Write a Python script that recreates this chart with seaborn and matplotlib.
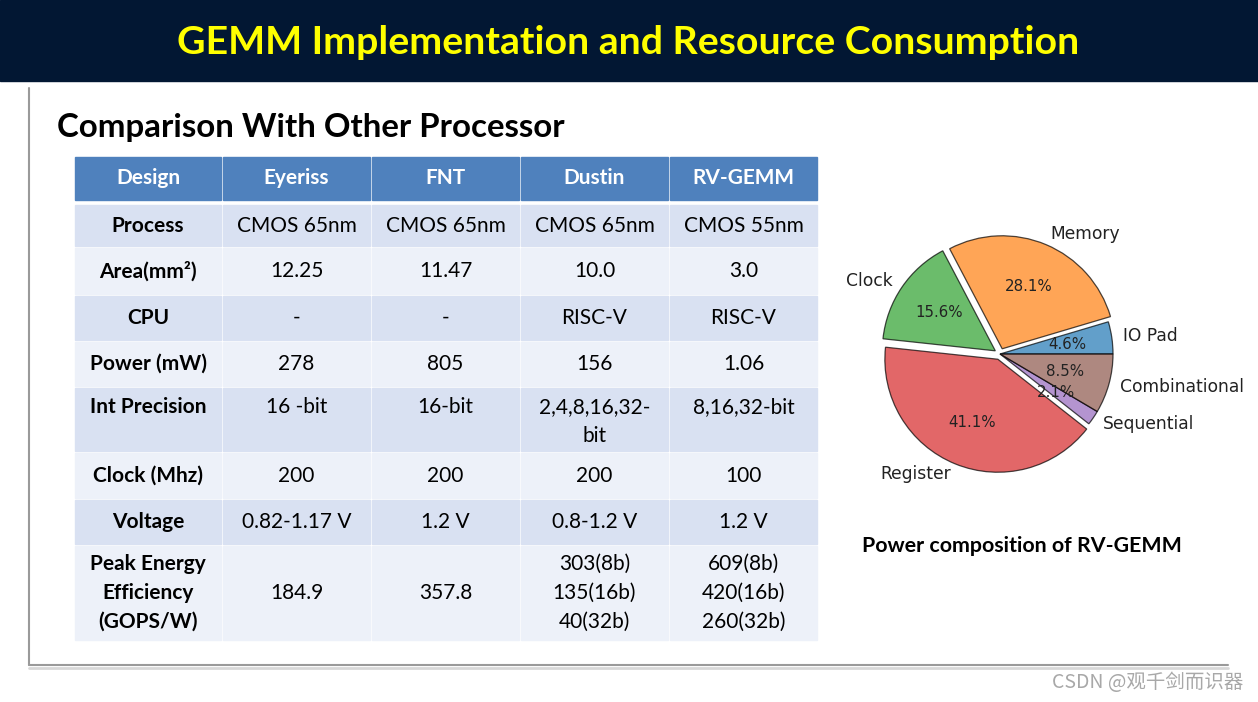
import numpy as np
import matplotlib
matplotlib.use("Agg")
import matplotlib.pyplot as plt
from matplotlib.patches import Rectangle
import seaborn as sns

# ---------------------------------------------------------------------------
# Data
# ---------------------------------------------------------------------------
title = "GEMM Implementation and Resource Consumption"
subtitle = "Comparison With Other Processor"

designs = ["Eyeriss", "FNT", "Dustin", "RV-GEMM"]
row_names = ["Process", "Area(mm²)", "CPU", "Power (mW)", "Int Precision",
             "Clock (Mhz)", "Voltage", "Peak Energy\nEfficiency\n(GOPS/W)"]
process = ["CMOS 65nm", "CMOS 65nm", "CMOS 65nm", "CMOS 55nm"]
area = ["12.25", "11.47", "10.0", "3.0"]
cpu = ["-", "-", "RISC-V", "RISC-V"]
power = ["278", "805", "156", "1.06"]
precision = ["16 -bit", "16-bit", "2,4,8,16,32-\nbit", "8,16,32-bit"]
clock = ["200", "200", "200", "100"]
voltage = ["0.82-1.17 V", "1.2 V", "0.8-1.2 V", "1.2 V"]
peak_eff = ["184.9", "357.8", "303(8b)\n135(16b)\n40(32b)", "609(8b)\n420(16b)\n260(32b)"]
table_rows = [process, area, cpu, power, precision, clock, voltage, peak_eff]

pie_labels = ["IO Pad", "Memory", "Clock", "Register", "Sequential", "Combinational"]
pie_share = [4.6, 28.1, 15.6, 41.1, 2.1, 8.5]
pie_explode = [0, 0.05, 0.05, 0.05, 0, 0]
pie_caption = "Power composition of RV-GEMM"
watermark = "CSDN @观千剑而识器"

# ---------------------------------------------------------------------------
# Layout (pixels)
# ---------------------------------------------------------------------------
W, H = 1258, 702
col_edges = [74, 222, 371, 520, 669, 818]
row_edges = [157, 200, 247, 295, 341, 387, 452, 499, 545, 641]
top_aligned = {"Int Precision"}

HEAD_BLUE = "#4F81BD"
ROW_DARK = "#D9E1F2"
ROW_LIGHT = "#EDF1F9"

sns.set_theme(style="white")
plt.rcParams["font.family"] = ["Lato", "DejaVu Sans"]

fig = plt.figure(figsize=(W / 100, H / 100), dpi=100)
ax = fig.add_axes([0, 0, 1, 1])
ax.set_xlim(0, W)
ax.set_ylim(H, 0)
ax.axis("off")

# header band
ax.add_patch(Rectangle((0, 0), W, 81, color="#021733", zorder=1))
ax.text(628, 42, title, color="#FFFF00", fontsize=28.3, fontweight="bold",
        ha="center", va="center", zorder=2)

# slide frame (left and bottom edges with soft shadow)
ax.plot([29, 29], [88, 665], color="#9a9a9a", lw=1.5, zorder=1)
ax.plot([29, 1228], [665, 665], color="#9a9a9a", lw=1.5, zorder=1)
ax.plot([29, 1228], [667.5, 667.5], color="#d8d8d8", lw=2, zorder=0)

ax.text(57, 127, subtitle, fontsize=23.8, fontweight="bold", color="black",
        ha="left", va="center")

# ---------------------------------------------------------------------------
# Table
# ---------------------------------------------------------------------------
header = ["Design"] + designs
for j, txt in enumerate(header):
    x0, x1 = col_edges[j], col_edges[j + 1]
    y0, y1 = row_edges[0], row_edges[1]
    ax.add_patch(Rectangle((x0 + 1, y0), x1 - x0 - 2, y1 - y0, color=HEAD_BLUE, zorder=1))
    ax.text((x0 + x1) / 2, (y0 + y1) / 2, txt, color="white", fontsize=15,
            fontweight="bold", ha="center", va="center", zorder=2)

for i, (name, vals) in enumerate(zip(row_names, table_rows)):
    y0, y1 = row_edges[i + 1], row_edges[i + 2]
    if i == 0:
        y0 += 4
    fill = ROW_DARK if i % 2 == 0 else ROW_LIGHT
    cells = [name] + vals
    for j, txt in enumerate(cells):
        x0, x1 = col_edges[j], col_edges[j + 1]
        ax.add_patch(Rectangle((x0 + 1, y0 + 1), x1 - x0 - 2, y1 - y0 - 2,
                               color=fill, zorder=1))
        if name in top_aligned:
            ty, va = y0 + 10, "top"
        else:
            ty, va = (y0 + y1) / 2, "center"
        ax.text((x0 + x1) / 2, ty, txt, fontsize=15, ha="center", va=va,
                fontweight="bold" if j == 0 else "normal", color="black",
                linespacing=1.55, zorder=2)

ax.text(1022, 546, pie_caption, fontsize=15.4, fontweight="bold", color="black",
        ha="center", va="center")

ax.text(1243, 683, watermark, fontsize=14, color="#a8a8a8", ha="right", va="center",
        family=["Noto Sans CJK SC", "DejaVu Sans"])

# ---------------------------------------------------------------------------
# Pie chart
# ---------------------------------------------------------------------------
R = 113
cx, cy = 1000, 354
lim = 1.4
pax = fig.add_axes([(cx - lim * R) / W, (H - cy - lim * R) / H,
                    2 * lim * R / W, 2 * lim * R / H])
colors = sns.color_palette("tab10", len(pie_share))
pax.pie(pie_share, labels=pie_labels, colors=colors, explode=pie_explode,
        autopct="%1.1f%%", startangle=0, counterclock=True,
        wedgeprops={"alpha": 0.7, "edgecolor": "black", "linewidth": 0.9},
        textprops={"family": "DejaVu Sans", "fontsize": 12.3, "color": "#222222"})
for t in pax.texts:
    if "%" in t.get_text():
        t.set_fontsize(10.8)
pax.set_xlim(-lim, lim)
pax.set_ylim(-lim, lim)
pax.set_aspect("equal")
pax.axis("off")

fig.savefig("out.png", dpi=100)
